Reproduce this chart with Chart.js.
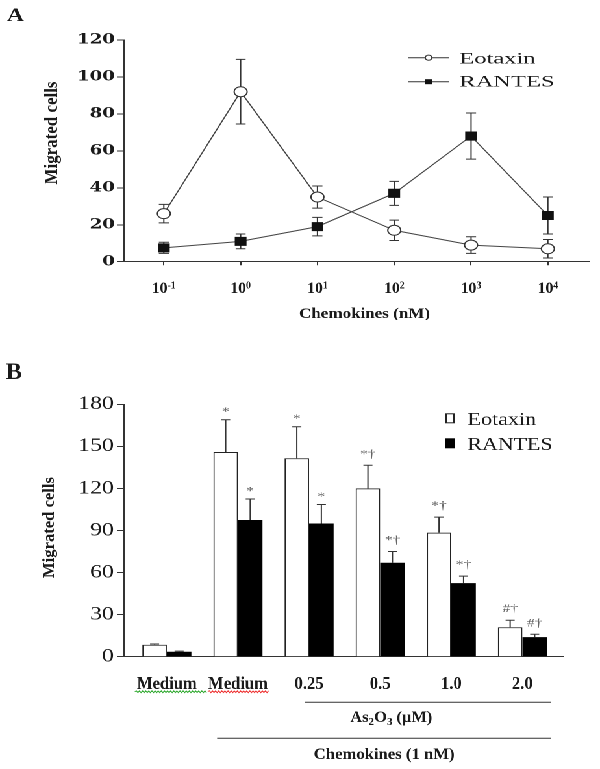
<!DOCTYPE html>
<html>
<head>
<meta charset="utf-8">
<script src="https://cdn.jsdelivr.net/npm/chart.js@4.4.1/dist/chart.umd.min.js"></script>
<style>
  html, body { margin: 0; padding: 0; background: #fff; overflow: hidden; }
  /* the original figure is stretched sideways, so the whole drawing is too */
  #stretch { position: absolute; left: 0; top: 0; width: 462px; height: 769px;
             transform: scaleX(1.2987); transform-origin: 0 0; }
  .panel { position: absolute; left: 0; width: 462px; }
  #panelA { top: 0; height: 320px; }
  #panelB { top: 320px; height: 449px; }
</style>
</head>
<body>
<div id="stretch">
  <div class="panel" id="panelA"><canvas id="chartA"></canvas></div>
  <div class="panel" id="panelB"><canvas id="chartB"></canvas></div>
</div>
<script>
// ---- panel A data (concentration 10^x nM)
const concExponents = ['-1', '0', '1', '2', '3', '4'];
const eotaxinA = [26, 92, 35, 17, 9, 7];
const eotaxinAErr = [5, 17.5, 6, 5.5, 4.5, 5];
const rantesA = [7.5, 11, 19, 37, 68, 25];
const rantesAErr = [3, 4, 5, 6.5, 12.5, 10];
const yTicksA = [0, 20, 40, 60, 80, 100, 120];

// ---- panel B data
const groupsB = ['Medium', 'Medium', '0.25', '0.5', '1.0', '2.0'];
const eotaxinB = [8.5, 146, 141.5, 120, 88.5, 21];
const eotaxinBErr = [0.6, 23, 22.5, 16.5, 11, 5];
const rantesB = [3.5, 97.5, 95, 67, 52.5, 14];
const rantesBErr = [0.5, 15, 13.5, 8, 5, 2];
const eotaxinBMarks = ['', '*', '*', '*†', '*†', '#†'];
const rantesBMarks = ['', '*', '*', '*†', '*†', '#†'];
const yTicksB = [0, 30, 60, 90, 120, 150, 180];

const STRETCH = 600 / 462;
const SERIF = "'Liberation Serif', 'Times New Roman', serif";
const INK = '#1a1a1a';
const AXIS = '#333';

// horizontal factor so a text ends up `width` px wide on screen
function sxFor(ctx, text, font, width) {
    ctx.font = font;
    return width / STRETCH / ctx.measureText(text).width;
}

function drawScaled(ctx, text, x, baseline, font, sx, align) {
    ctx.save();
    ctx.font = font;
    ctx.fillStyle = INK;
    ctx.textAlign = align || 'center';
    ctx.textBaseline = 'alphabetic';
    ctx.translate(x, baseline);
    ctx.scale(sx, 1);
    ctx.fillText(text, 0, 0);
    ctx.restore();
}

function fitText(ctx, text, x, baseline, font, width, align) {
    drawScaled(ctx, text, x, baseline, font, sxFor(ctx, text, font, width), align);
}

function fitVertical(ctx, text, cx, cy, font, length) {
    ctx.save();
    ctx.font = font;
    const sx = length / ctx.measureText(text).width;
    ctx.fillStyle = INK;
    ctx.translate(cx, cy);
    ctx.rotate(-Math.PI / 2);
    ctx.scale(sx, 1);
    ctx.textAlign = 'center';
    ctx.textBaseline = 'middle';
    ctx.fillText(text, 0, 0);
    ctx.restore();
}

// runs of text with sub/superscripts, centred on cx
function drawRuns(ctx, runs, cx, baseline, weight, sx) {
    ctx.save();
    ctx.fillStyle = INK;
    ctx.textAlign = 'left';
    ctx.textBaseline = 'alphabetic';
    let total = 0;
    runs.forEach(r => {
        ctx.font = `${weight} ${r.size}px ${SERIF}`;
        r.w = ctx.measureText(r.t).width;
        total += r.w;
    });
    ctx.translate(cx, baseline);
    ctx.scale(sx, 1);
    let x = -total / 2;
    runs.forEach(r => {
        ctx.font = `${weight} ${r.size}px ${SERIF}`;
        ctx.fillText(r.t, x, r.dy || 0);
        x += r.w;
    });
    ctx.restore();
}

function runsWidth(ctx, runs, weight) {
    let total = 0;
    runs.forEach(r => {
        ctx.font = `${weight} ${r.size}px ${SERIF}`;
        total += ctx.measureText(r.t).width;
    });
    return total;
}

function wavy(ctx, x0, x1, y, color) {
    ctx.save();
    ctx.strokeStyle = color;
    ctx.lineWidth = 0.8;
    ctx.beginPath();
    let up = true;
    ctx.moveTo(x0, y);
    for (let x = x0 + 1.2; x <= x1; x += 1.2) {
        ctx.lineTo(x, up ? y - 0.9 : y + 0.9);
        up = !up;
    }
    ctx.stroke();
    ctx.restore();
}

function hLine(ctx, x0, x1, y) {
    ctx.save();
    ctx.strokeStyle = AXIS;
    ctx.lineWidth = 1;
    ctx.beginPath();
    ctx.moveTo(x0, y);
    ctx.lineTo(x1, y);
    ctx.stroke();
    ctx.restore();
}

const errorBars = {
    id: 'errorBars',
    beforeDatasetsDraw(chart, args, opts) {
        const { ctx } = chart;
        const y = chart.scales.y;
        ctx.save();
        ctx.strokeStyle = AXIS;
        ctx.lineWidth = 1;
        chart.data.datasets.forEach((ds, di) => {
            chart.getDatasetMeta(di).data.forEach((el, i) => {
                const v = ds.data[i].y;
                const e = ds.errors[i];
                const top = y.getPixelForValue(v + e);
                const bottom = y.getPixelForValue(opts.upperOnly ? v : v - e);
                ctx.beginPath();
                ctx.moveTo(el.x, top);
                ctx.lineTo(el.x, bottom);
                ctx.moveTo(el.x - opts.cap, top);
                ctx.lineTo(el.x + opts.cap, top);
                if (!opts.upperOnly) {
                    ctx.moveTo(el.x - opts.cap, bottom);
                    ctx.lineTo(el.x + opts.cap, bottom);
                }
                ctx.stroke();
            });
        });
        ctx.restore();
    }
};

const panelAText = {
    id: 'panelAText',
    afterDraw(chart) {
        const { ctx } = chart;
        const xs = chart.scales.x;

        fitText(ctx, 'A', 5.4, 21, `bold 19px ${SERIF}`, 17, 'left');
        fitVertical(ctx, 'Migrated cells', 40, 133, `bold 14.5px ${SERIF}`, 103);

        // 10^x tick labels
        concExponents.forEach((exp, i) => {
            drawRuns(ctx, [{ t: '10', size: 16 }, { t: exp, size: 10, dy: -4.5 }],
                     xs.getPixelForValue(i), 293, 'bold', 0.75);
        });

        fitText(ctx, 'Chemokines (nM)', 280.7, 318, `bold 15px ${SERIF}`, 131);

        // legend
        const rows = [
            { label: 'Eotaxin', y: 57.7, base: 63.3, width: 76, open: true },
            { label: 'RANTES', y: 81.7, base: 86.7, width: 95, open: false }
        ];
        rows.forEach(r => {
            hLine(ctx, 314, 346, r.y);
            ctx.save();
            ctx.strokeStyle = AXIS;
            ctx.lineWidth = 1;
            if (r.open) {
                ctx.fillStyle = '#fff';
                ctx.beginPath();
                ctx.arc(330, r.y, 2.6, 0, Math.PI * 2);
                ctx.fill();
                ctx.stroke();
            } else {
                ctx.fillStyle = '#111';
                ctx.fillRect(327, r.y - 2.5, 6, 5);
            }
            ctx.restore();
            fitText(ctx, r.label, 353.8, r.base, `16px ${SERIF}`, r.width, 'left');
        });
    }
};

const panelBText = {
    id: 'panelBText',
    afterDraw(chart) {
        const { ctx } = chart;
        const xs = chart.scales.x;
        const ys = chart.scales.y;

        fitText(ctx, 'B', 4.6, 59, `bold 23px ${SERIF}`, 16, 'left');
        fitVertical(ctx, 'Migrated cells', 38.5, 207.5, `bold 12.5px ${SERIF}`, 101);

        // significance marks over the error bars
        chart.data.datasets.forEach((ds, di) => {
            chart.getDatasetMeta(di).data.forEach((el, i) => {
                const m = ds.marks[i];
                if (!m) return;
                const top = ys.getPixelForValue(ds.data[i].y + ds.errors[i]);
                ctx.save();
                ctx.font = `12px ${SERIF}`;
                ctx.fillStyle = '#666';
                ctx.textAlign = 'center';
                ctx.textBaseline = 'alphabetic';
                ctx.fillText(m, el.x, top - (m.length > 1 ? 8 : 4.5));
                ctx.restore();
            });
        });

        // legend
        ctx.save();
        ctx.strokeStyle = '#222';
        ctx.lineWidth = 1;
        ctx.fillStyle = '#fff';
        ctx.fillRect(343, 93.3, 7, 10);
        ctx.strokeRect(343.5, 93.8, 6, 9);
        ctx.fillStyle = '#000';
        ctx.fillRect(343, 118.3, 7, 10);
        ctx.restore();
        fitText(ctx, 'Eotaxin', 360, 105, `18px ${SERIF}`, 68.7, 'left');
        fitText(ctx, 'RANTES', 360, 130, `18px ${SERIF}`, 85, 'left');

        // group labels
        const catFont = `bold 18px ${SERIF}`;
        const sx = sxFor(ctx, 'Medium', catFont, 60);
        groupsB.forEach((g, i) => {
            drawScaled(ctx, g, xs.getPixelForValue(i), 369, catFont, sx);
        });
        wavy(ctx, 103.8, 160, 371.7, '#3a3');
        wavy(ctx, 160, 207.7, 371.7, '#e33');

        hLine(ctx, 234.6, 424.4, 382.3);
        const asRuns = [
            { t: 'As', size: 16 }, { t: '2', size: 11, dy: 3 },
            { t: 'O', size: 16 }, { t: '3', size: 11, dy: 3 },
            { t: ' (\u03BCM)', size: 16 }
        ];
        const asSx = 82 / STRETCH / runsWidth(ctx, asRuns, 'bold');
        drawRuns(ctx, asRuns, 301.3, 402, 'bold', asSx);

        hLine(ctx, 167.2, 424.4, 418.3);
        fitText(ctx, 'Chemokines (1 nM)', 295.8, 439, `bold 16px ${SERIF}`, 141);
    }
};

const axisBorder = { display: true, color: AXIS, width: 1 };

new Chart(document.getElementById('chartA'), {
    type: 'line',
    data: {
        datasets: [
            {
                label: 'Eotaxin',
                data: eotaxinA.map((v, i) => ({ x: i, y: v })),
                errors: eotaxinAErr,
                borderColor: '#444',
                borderWidth: 1,
                pointStyle: 'circle',
                pointRadius: 5,
                pointBackgroundColor: '#fff',
                pointBorderColor: '#333',
                pointBorderWidth: 1
            },
            {
                label: 'RANTES',
                data: rantesA.map((v, i) => ({ x: i, y: v })),
                errors: rantesAErr,
                borderColor: '#444',
                borderWidth: 1,
                pointStyle: 'rect',
                pointRadius: 5.7,
                pointBackgroundColor: '#111',
                pointBorderColor: '#111',
                pointBorderWidth: 1
            }
        ]
    },
    options: {
        responsive: true,
        maintainAspectRatio: false,
        animation: false,
        devicePixelRatio: 2,
        layout: { padding: { left: 0, right: 8.2, top: 40, bottom: 0 } },
        plugins: {
            legend: { display: false },
            tooltip: { enabled: false },
            errorBars: { cap: 3.85, upperOnly: false }
        },
        scales: {
            x: {
                type: 'linear',
                min: -0.52,
                max: 5.54,
                border: axisBorder,
                grid: { display: true, drawOnChartArea: false, drawTicks: true, tickLength: 3.5, color: AXIS },
                ticks: { stepSize: 1, includeBounds: false, autoSkip: false, callback: () => '' },
                afterFit: s => { s.height = 58.3; }
            },
            y: {
                min: yTicksA[0],
                max: yTicksA[yTicksA.length - 1],
                border: axisBorder,
                grid: { display: true, drawOnChartArea: false, drawTicks: true, tickLength: 5.4, color: AXIS },
                ticks: {
                    stepSize: yTicksA[1] - yTicksA[0],
                    padding: 1.5,
                    color: INK,
                    font: { family: "'DejaVu Serif', serif", size: 14, weight: 'bold' }
                },
                afterFit: s => { s.width = 95.4; }
            }
        }
    },
    plugins: [errorBars, panelAText]
});

new Chart(document.getElementById('chartB'), {
    type: 'bar',
    data: {
        datasets: [
            {
                label: 'Eotaxin',
                data: eotaxinB.map((v, i) => ({ x: i, y: v })),
                errors: eotaxinBErr,
                marks: eotaxinBMarks,
                backgroundColor: '#fff',
                borderColor: '#222',
                borderWidth: 1
            },
            {
                label: 'RANTES',
                data: rantesB.map((v, i) => ({ x: i, y: v })),
                errors: rantesBErr,
                marks: rantesBMarks,
                backgroundColor: '#000',
                borderColor: '#000',
                borderWidth: 0
            }
        ]
    },
    options: {
        responsive: true,
        maintainAspectRatio: false,
        animation: false,
        devicePixelRatio: 2,
        datasets: { bar: { categoryPercentage: 0.69, barPercentage: 1 } },
        layout: { padding: { left: 0, right: 28.2, top: 84.3, bottom: 0 } },
        plugins: {
            legend: { display: false },
            tooltip: { enabled: false },
            errorBars: { cap: 3.5, upperOnly: true }
        },
        scales: {
            x: {
                type: 'linear',
                min: -0.604,
                max: 5.576,
                offset: false,
                border: axisBorder,
                grid: { display: false },
                ticks: { display: false, stepSize: 1, includeBounds: false, autoSkip: false },
                afterFit: s => { s.height = 112.3; }
            },
            y: {
                min: yTicksB[0],
                max: yTicksB[yTicksB.length - 1],
                border: axisBorder,
                grid: { display: true, drawOnChartArea: false, drawTicks: true, tickLength: 5.4, color: AXIS },
                ticks: {
                    stepSize: yTicksB[1] - yTicksB[0],
                    padding: 2.3,
                    color: INK,
                    font: { family: SERIF, size: 18.5 }
                },
                afterFit: s => { s.width = 95.4; }
            }
        }
    },
    plugins: [errorBars, panelBText]
});
</script>
</body>
</html>
